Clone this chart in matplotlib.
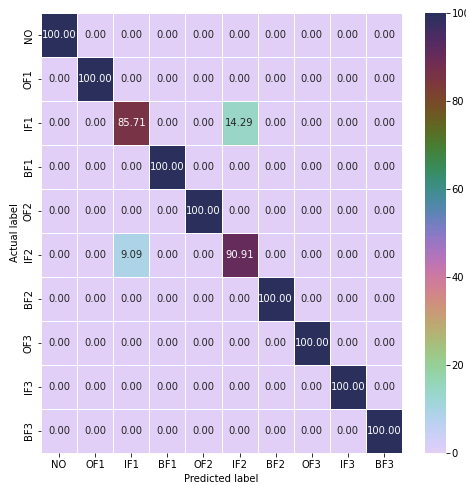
import matplotlib
matplotlib.use("Agg")
import matplotlib.pyplot as plt
import seaborn as sns
import numpy as np

labels = ["NO", "OF1", "IF1", "BF1", "OF2", "IF2", "BF2", "OF3", "IF3", "BF3"]

# row-normalised confusion matrix (%), rows = actual, cols = predicted
row_NO  = [100, 0, 0, 0, 0, 0, 0, 0, 0, 0]
row_OF1 = [0, 100, 0, 0, 0, 0, 0, 0, 0, 0]
row_IF1 = [0, 0, 85.71, 0, 0, 14.29, 0, 0, 0, 0]
row_BF1 = [0, 0, 0, 100, 0, 0, 0, 0, 0, 0]
row_OF2 = [0, 0, 0, 0, 100, 0, 0, 0, 0, 0]
row_IF2 = [0, 0, 9.09, 0, 0, 90.91, 0, 0, 0, 0]
row_BF2 = [0, 0, 0, 0, 0, 0, 100, 0, 0, 0]
row_OF3 = [0, 0, 0, 0, 0, 0, 0, 100, 0, 0]
row_IF3 = [0, 0, 0, 0, 0, 0, 0, 0, 100, 0]
row_BF3 = [0, 0, 0, 0, 0, 0, 0, 0, 0, 100]

cm = np.array([row_NO, row_OF1, row_IF1, row_BF1, row_OF2,
               row_IF2, row_BF2, row_OF3, row_IF3, row_BF3])

cmap = sns.cubehelix_palette(start=1.0, rot=3.2, hue=1.0, light=0.85, dark=0.2, as_cmap=True)

fig = plt.figure(figsize=(466 / 72, 485 / 72), dpi=72)
ax = fig.add_axes([41 / 466, 1 - 453 / 485, 361 / 466, 440 / 485])
cax = fig.add_axes([425 / 466, 1 - 453 / 485, 21 / 466, 440 / 485])

sns.heatmap(cm, annot=True, fmt=".2f", cmap=cmap, vmin=0, vmax=100,
            linewidths=0.8, linecolor="white", ax=ax, cbar_ax=cax,
            xticklabels=labels, yticklabels=labels,
            annot_kws={"fontsize": 10})
ax.set_xlabel("Predicted label")
ax.set_ylabel("Actual label")
ax.tick_params(axis="x", rotation=0)
ax.tick_params(axis="y", rotation=90)
for t in ax.get_yticklabels():
    t.set_va("center")
cax.tick_params(labelsize=10, pad=2)

fig.savefig("out.png", dpi=72)
